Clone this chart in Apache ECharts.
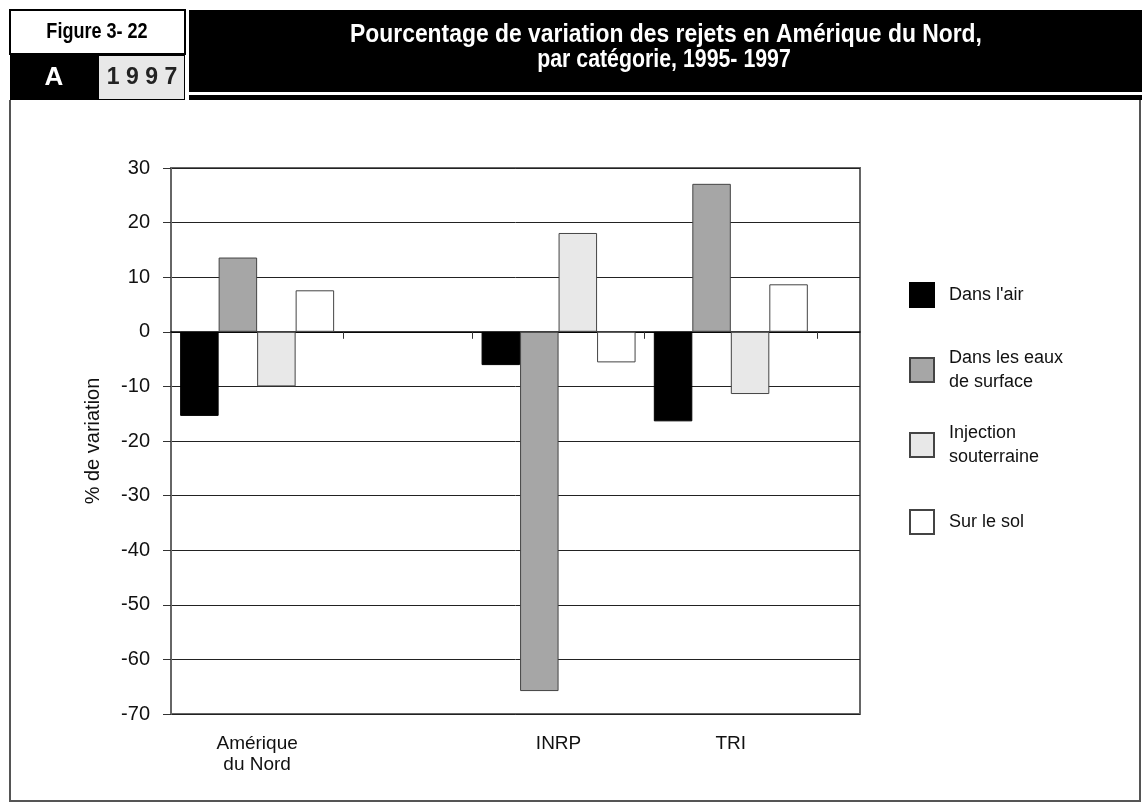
<!DOCTYPE html>
<html>
<head>
<meta charset="utf-8">
<script src="https://cdn.jsdelivr.net/npm/echarts@6/dist/echarts.min.js"></script>
<style>
  html, body { margin: 0; padding: 0; background: #fff; }
  #chart { width: 1142px; height: 804px; }
</style>
</head>
<body>
<div id="chart"></div>
<script>
// données
var regions = ['Amérique\ndu Nord', 'INRP', 'TRI'];
var seriesNames = ['Dans l\'air', 'Dans les eaux\nde surface', 'Injection\nsouterraine', 'Sur le sol'];
var dansAir = [-15.4, -6.1, -16.4];
var eauxSurface = [13.6, -65.8, 27.1];
var injection = [-10.0, 18.1, -11.4];
var surSol = [7.6, -5.6, 8.7];
var yTicks = { min: -70, max: 30, step: 10 };

// mise en page : l'axe des catégories est découpé en points fins
var slotCount = 17;
var regionSlot = [2, 9, 13];
var tickSlots = [4, 7, 11, 15];

var sans = '"Liberation Sans", Arial, sans-serif';
var narrowScale = 0.82; // pas d'Arial Narrow installée : on resserre le texte

var axisData = [];
for (var i = 0; i < slotCount; i++) axisData.push('');
regionSlot.forEach(function (s, k) { axisData[s] = regions[k]; });

function spread(vals) {
    var out = [];
    for (var i = 0; i < slotCount; i++) out.push(null);
    regionSlot.forEach(function (s, k) { out[s] = vals[k]; });
    return out;
}

var fills = ['#000000', '#a6a6a6', '#e8e8e8', '#ffffff'];
var borders = ['#000000', '#444444', '#444444', '#444444'];
var values = [dansAir, eauxSurface, injection, surSol];

var series = seriesNames.map(function (name, k) {
    return {
        name: name,
        type: 'bar',
        xAxisIndex: 0,
        barWidth: 38.5,
        barGap: '0%',
        itemStyle: { color: fills[k], borderColor: borders[k], borderWidth: 1 },
        emphasis: { disabled: true },
        data: spread(values[k])
    };
});

// une légende par entrée pour garder l'espacement régulier
var legendTops = [282, 346, 421, 509];
var legends = seriesNames.map(function (name, k) {
    return {
        data: [name],
        orient: 'vertical',
        left: 909,
        top: legendTops[k],
        padding: 0,
        itemWidth: 24,
        itemHeight: 24,
        selectedMode: false,
        icon: 'rect',
        textStyle: { fontFamily: sans, fontSize: 18, color: '#111', lineHeight: 24, padding: [0, 0, 0, 10] }
    };
});

var chart = echarts.init(document.getElementById('chart'), null, { renderer: 'canvas' });

var option = {
    animation: false,
    backgroundColor: '#fff',
    grid: { left: 171, right: 282, top: 168, bottom: 90, show: true, borderColor: '#666', borderWidth: 2 },
    legend: legends,
    xAxis: [{
        type: 'category',
        data: axisData,
        boundaryGap: false,
        position: 'bottom',
        axisLine: { show: false, onZero: false },
        axisTick: { show: false },
        splitLine: { show: false },
        axisLabel: { interval: 0, margin: 19, fontFamily: sans, fontSize: 19, lineHeight: 21, color: '#111' }
    }, {
        type: 'category',
        data: axisData,
        boundaryGap: false,
        position: 'bottom',
        axisLine: { show: true, onZero: true, lineStyle: { color: '#000', width: 1.5 } },
        axisTick: {
            show: true, length: 7, lineStyle: { color: '#333' },
            interval: function (idx) { return tickSlots.indexOf(idx) >= 0; }
        },
        axisLabel: { show: false },
        splitLine: { show: false }
    }],
    yAxis: {
        type: 'value',
        min: yTicks.min,
        max: yTicks.max,
        interval: yTicks.step,
        name: '% de variation',
        nameLocation: 'middle',
        nameRotate: 90,
        nameGap: 68,
        nameTextStyle: { fontFamily: sans, fontSize: 20, color: '#111' },
        axisLine: { show: true, lineStyle: { color: '#666', width: 2 } },
        axisTick: { show: true, length: 8, lineStyle: { color: '#333' } },
        axisLabel: { margin: 21, fontFamily: sans, fontSize: 20, color: '#111' },
        splitLine: { show: true, lineStyle: { color: '#222', width: 1 } }
    },
    series: series,
    graphic: [
        // bandeau du haut
        { type: 'rect', shape: { x: 10, y: 10, width: 175, height: 44 }, style: { fill: '#fff', stroke: '#000', lineWidth: 2 } },
        { type: 'rect', shape: { x: 10, y: 54, width: 175, height: 46 }, style: { fill: '#000' } },
        { type: 'rect', shape: { x: 99, y: 56, width: 85, height: 43 }, style: { fill: '#e8e8e8' } },
        { type: 'rect', shape: { x: 189, y: 10, width: 953, height: 82 }, style: { fill: '#000' } },
        { type: 'rect', shape: { x: 189, y: 95, width: 953, height: 5 }, style: { fill: '#000' } },
        { type: 'text', x: 97, y: 32, scaleX: narrowScale, style: { text: 'Figure 3- 22', font: 'bold 22px ' + sans, fill: '#000', align: 'center', verticalAlign: 'middle' } },
        { type: 'text', x: 54, y: 78, style: { text: 'A', font: 'bold 26px ' + sans, fill: '#fff', align: 'center', verticalAlign: 'middle' } },
        { type: 'text', x: 142, y: 78, style: { text: '1 9 9 7', font: 'bold 23px ' + sans, fill: '#222', align: 'center', verticalAlign: 'middle' } },
        { type: 'text', x: 666, y: 35, scaleX: 0.88, style: { text: 'Pourcentage de variation des rejets en Amérique du Nord,', font: 'bold 26px ' + sans, fill: '#fff', align: 'center', verticalAlign: 'middle' } },
        { type: 'text', x: 664, y: 60, scaleX: narrowScale, style: { text: 'par catégorie, 1995- 1997', font: 'bold 26px ' + sans, fill: '#fff', align: 'center', verticalAlign: 'middle' } },
        // cadre
        { type: 'polyline', shape: { points: [[10, 100], [10, 801], [1140, 801], [1140, 100]] }, style: { stroke: '#555', lineWidth: 2, fill: null } }
    ]
};

chart.setOption(option);
window.addEventListener('resize', function () { chart.resize(); });
</script>
</body>
</html>
